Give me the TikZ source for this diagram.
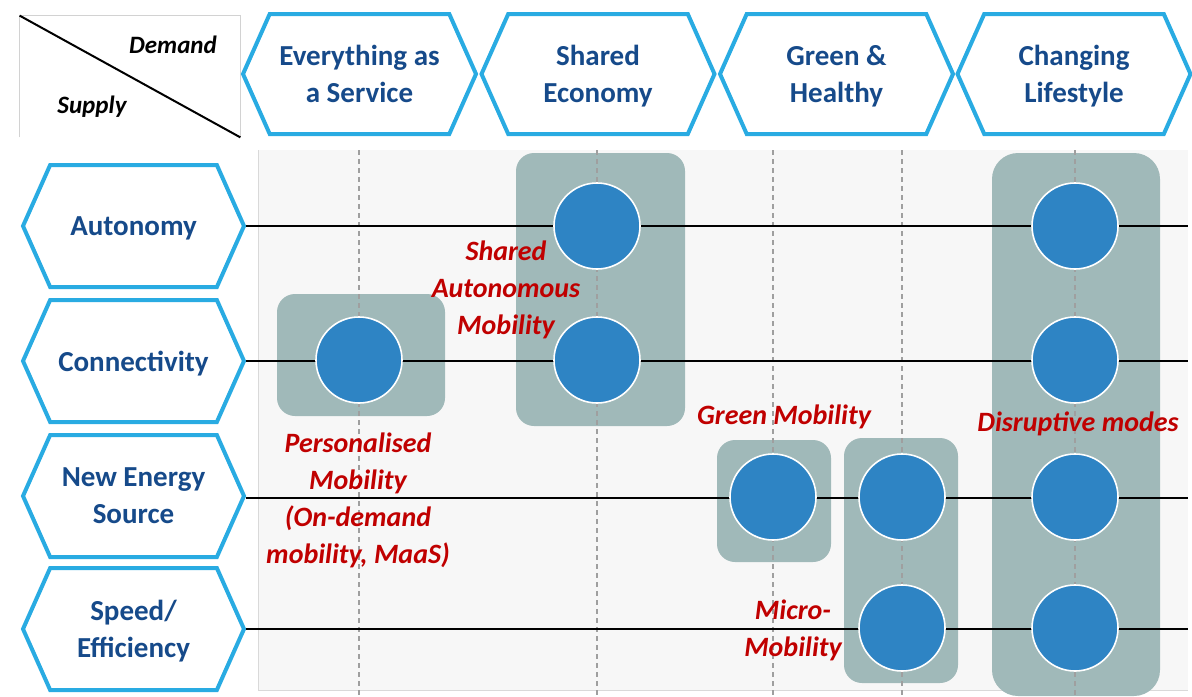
\documentclass[tikz,border=0pt]{standalone}
\usepackage{fontspec}
\setmainfont{Carlito}
\usetikzlibrary{shapes.symbols}

\definecolor{hexline}{RGB}{41,171,226}
\definecolor{hextext}{RGB}{22,74,138}
\definecolor{blobfill}{RGB}{46,132,196}
\definecolor{patchfill}{RGB}{160,185,185}
\definecolor{tagred}{RGB}{192,0,0}
\definecolor{panelgray}{RGB}{247,247,247}

\tikzset{
  hexcell/.style={signal, signal to=west and east, signal pointer angle=132,
    draw=hexline, line width=2pt, fill=white, text=hextext, align=center,
    inner sep=0pt, text depth=0pt, font=\fontsize{14.5}{18.5}\selectfont\bfseries},
  demandhex/.style={hexcell, minimum width=116.5pt, minimum height=60pt},
  supplyhex/.style={hexcell, minimum width=110.5pt, minimum height=61pt},
  blob/.style={circle, fill=blobfill, draw=white, line width=0.8pt,
    minimum size=43pt, inner sep=0pt},
  patch/.style={fill=patchfill, rounded corners=9pt},
  tag/.style={text=tagred, align=center, inner sep=0pt,
    font=\fontsize{14}{18.5}\selectfont\bfseries\itshape},
  gridline/.style={black, line width=0.9pt},
  colline/.style={gray!75, line width=0.7pt, dash pattern=on 2.5pt off 2pt},
}

\begin{document}
\begin{tikzpicture}[x=0.5pt, y=-0.5pt]
\useasboundingbox (0,0) rectangle (1192,696);

% corner cell
\node (corner) [minimum width=110pt, minimum height=60.5pt, inner sep=0pt] at (130,76.5) {};
\draw[gray!35] (corner.south west) -- (corner.north west) -- (corner.north east) -- (corner.south east);
\draw[line width=1pt] (corner.north west) -- (corner.south east);
\node[font=\fontsize{12.5}{14}\selectfont\bfseries\itshape] (demand) at (173,45) {Demand};
\node[font=\fontsize{12.5}{14}\selectfont\bfseries\itshape] (supply) at (92,107) {Supply};

% demand columns
\node[demandhex] (eaas) at (359.5,74) {Everything as\\a Service};
\node[demandhex] (share) at (598,74) {Shared\\Economy};
\node[demandhex] (green) at (836.5,74) {Green \&\\Healthy};
\node[demandhex] (life) at (1074,74) {Changing\\Lifestyle};

% supply rows
\node[supplyhex] (auto) at (133.5,226) {Autonomy};
\node[supplyhex] (conn) at (133.5,361) {Connectivity};
\node[supplyhex] (energy) at (133.5,496) {New Energy\\Source};
\node[supplyhex] (speed) at (133.5,629) {Speed/\\Efficiency};

% panel
\fill[panelgray] (258,150) rectangle (1188,690);
\draw[gray!30] (258,150) -- (258,690) -- (1188,690);

% groups
\fill[patch] (277,294) rectangle (445,416);
\fill[patch] (516,153) rectangle (685,426);
\fill[patch] (717,440) rectangle (831,562);
\fill[patch] (844,438) rectangle (958,683);
\fill[patch, rounded corners=13pt] (992,153) rectangle (1160,696);

% dashed columns
\foreach \cx in {359,597,773,902,1075}
  \draw[colline] (\cx,150) -- (\cx,696);

% row lines
\coordinate (edge) at (1188,0);
\draw[gridline] (auto.east) -- (auto.east -| edge);
\draw[gridline] (conn.east) -- (conn.east -| edge);
\draw[gridline] ([yshift=-0.8pt]energy.east) -- ([yshift=-0.8pt]energy.east -| edge);
\draw[gridline] (speed.east) -- (speed.east -| edge);

% dots
\node[blob] (p1) at (359,360) {};
\node[blob] (s1) at (597,226) {};
\node[blob] (s2) at (597,360) {};
\node[blob] (g1) at (773,497) {};
\node[blob] (m1) at (902,497) {};
\node[blob] (m2) at (902,628) {};
\node[blob] (d1) at (1075,226) {};
\node[blob] (d2) at (1075,360) {};
\node[blob] (d3) at (1075,497) {};
\node[blob] (d4) at (1075,628) {};

% group labels
\node[tag] (sharedtag) at (506,290) {Shared\\Autonomous\\Mobility};
\node[tag] (persotag) at (358,500) {Personalised\\Mobility\\(On-demand\\mobility, MaaS)};
\node[tag] (greentag) at (784,417) {Green Mobility};
\node[tag] (disrupttag) at (1078,424) {Disruptive modes};
\node[tag] (microtag) at (793,630) {Micro-\\Mobility};
\end{tikzpicture}
\end{document}
